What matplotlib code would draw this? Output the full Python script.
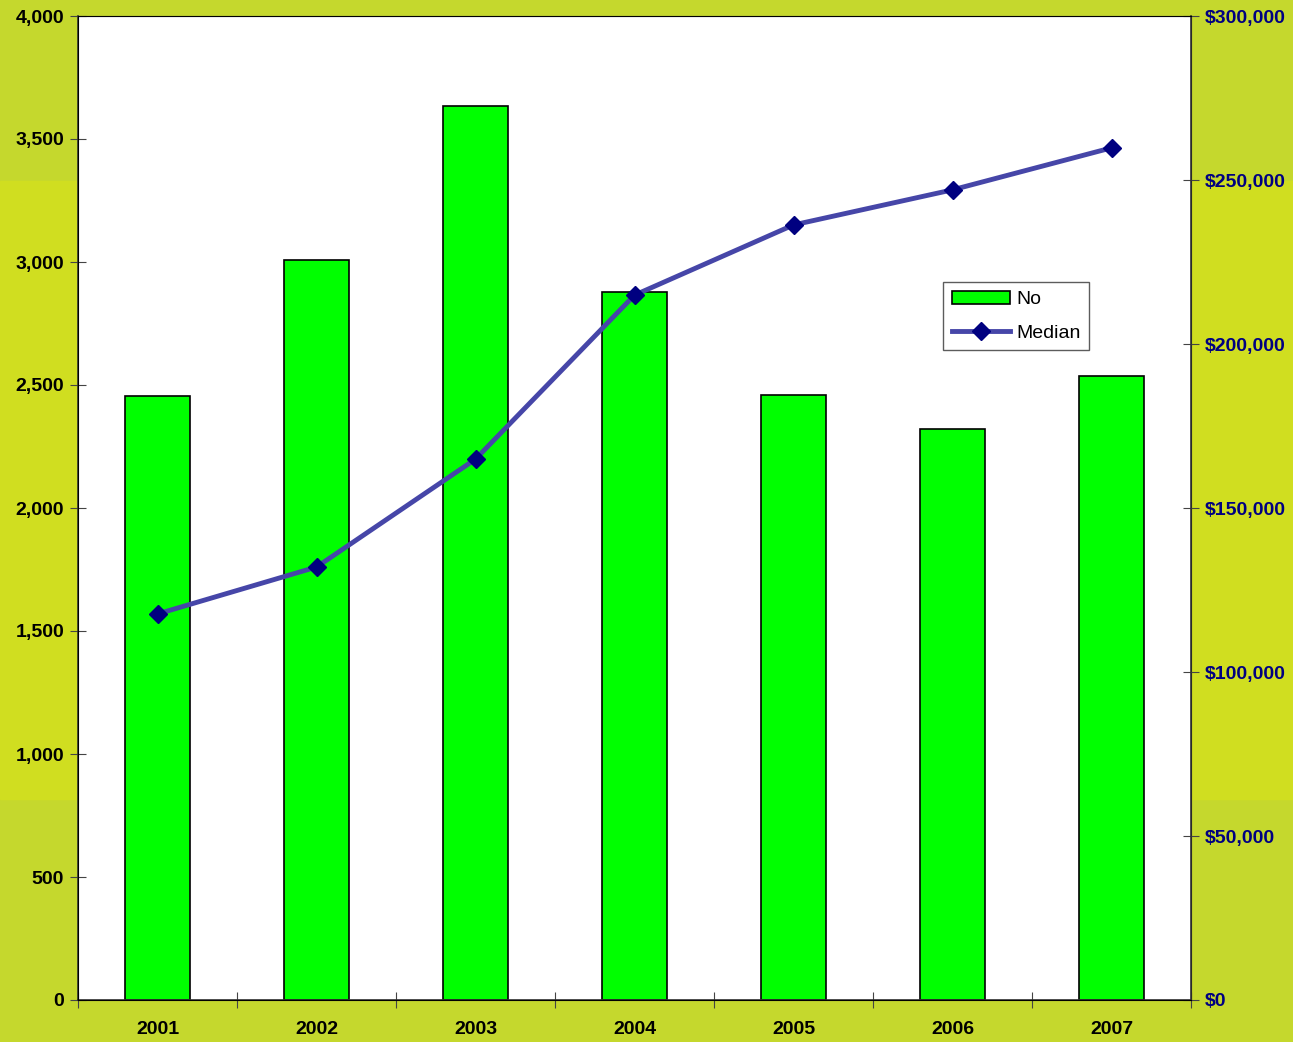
import matplotlib.pyplot as plt
from matplotlib.ticker import FuncFormatter

years = ['2001', '2002', '2003', '2004', '2005', '2006', '2007']
counts = [2455, 3010, 3634, 2878, 2460, 2321, 2537]
medians = [117700, 132000, 164900, 214900, 236300, 247000, 259800]

plt.rcParams['font.family'] = ['Liberation Sans', 'DejaVu Sans']

fig = plt.figure(figsize=(12.93, 10.42), dpi=100)
fig.patch.set_facecolor('#c5d82d')

# lighter band in the slide background, drawn behind the chart
bg = fig.add_axes([0, 0, 1, 1], zorder=-1)
bg.axis('off')
bg.set_xlim(0, 1)
bg.set_ylim(0, 1)
bg.axhspan(1 - 799 / 1042, 1 - 181 / 1042, color='#d0de20')

ax = fig.add_axes([78 / 1293, 1 - 1000 / 1042, (1191 - 78) / 1293, (1000 - 16) / 1042])
ax.set_facecolor('white')
x = range(len(years))
bars = ax.bar(x, counts, width=0.415, color='#00ff00', edgecolor='black', linewidth=1.2, label='No', zorder=2)
ax.set_xlim(-0.5, 6.5)
ax.set_ylim(0, 4000)
ax.set_yticks(range(0, 4001, 500))
ax.yaxis.set_major_formatter(FuncFormatter(lambda v, p: f'{int(v):,}'))
ax.set_xticks([i + 0.5 for i in range(-1, 7)])
ax.set_xticklabels([])
ax.set_xticks(list(x), minor=True)
ax.set_xticklabels(years, minor=True)
ax.tick_params(axis='x', which='minor', length=0, pad=15)
ax.tick_params(axis='x', which='major', direction='inout', length=12, color='#444444')
ax.tick_params(axis='y', direction='inout', length=12, color='#444444', pad=4)
for lbl in ax.get_xticklabels(minor=True) + ax.get_yticklabels():
    lbl.set_fontsize(14)
    lbl.set_fontweight('bold')
for s in ['left', 'bottom']:
    ax.spines[s].set_color('#333333')
    ax.spines[s].set_linewidth(1.2)
ax.spines['top'].set_color('#999999')

ax2 = ax.twinx()
line, = ax2.plot(list(x), medians, color='#4646a8', linewidth=3.5, marker='D', markersize=9,
                 markerfacecolor='#000080', markeredgecolor='#000080', label='Median', zorder=3)
ax2.set_ylim(0, 300000)
ax2.set_yticks(range(0, 300001, 50000))
ax2.yaxis.set_major_formatter(FuncFormatter(lambda v, p: f'${int(v):,}'))
ax2.tick_params(axis='y', direction='inout', length=12, color='#444444', labelcolor='#000080', pad=4)
for lbl in ax2.get_yticklabels():
    lbl.set_fontsize(14)
    lbl.set_fontweight('bold')
ax2.spines['right'].set_color('#333333')
ax2.spines['right'].set_linewidth(1.2)

leg = ax2.legend([bars, line], ['No', 'Median'], loc='upper left',
                 bbox_to_anchor=((943 - 78) / 1113, 1 - (282 - 16) / 984),
                 fontsize=14, frameon=True, fancybox=False, edgecolor='#333333',
                 handlelength=3.0, handletextpad=0.3, borderpad=0.45, labelspacing=0.8,
                 borderaxespad=0)
leg.get_frame().set_linewidth(1)

fig.savefig('out.png', dpi=100, facecolor=fig.get_facecolor())
